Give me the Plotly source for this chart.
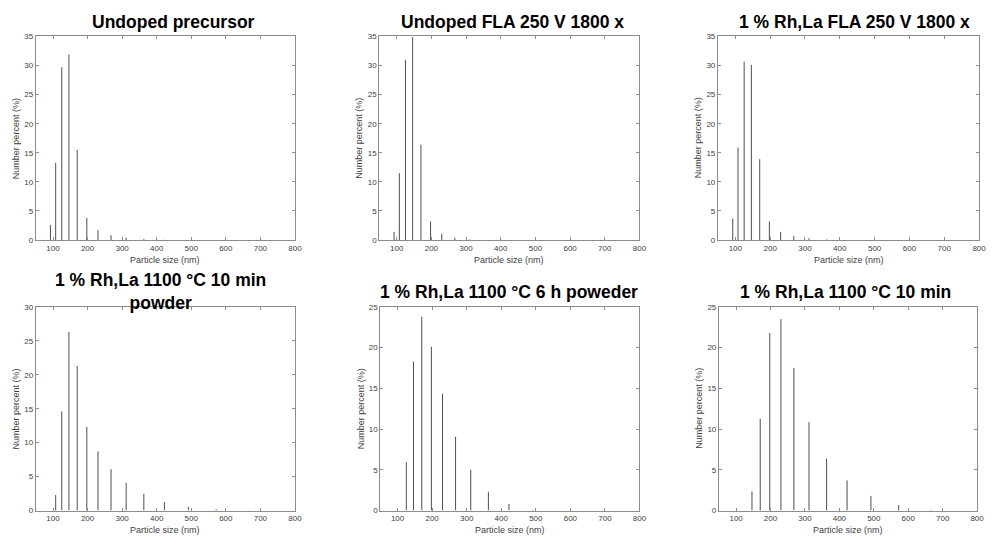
import plotly.graph_objects as go

# ---------------- data ----------------
sizes_nm = [92.5, 107.7, 125.3, 146.0, 170.0, 197.8, 230.1, 267.8,
            311.7, 362.8, 422.3, 491.6, 572.2, 666.1]

pct_undoped_precursor = [2.6, 13.3, 29.7, 31.9, 15.5, 3.8, 1.7, 0.85, 0.4, 0.15, 0.05, 0, 0, 0]
pct_undoped_fla = [1.4, 11.5, 31.0, 34.9, 16.4, 3.2, 1.1, 0.4, 0.1, 0, 0, 0, 0, 0]
pct_rhla_fla = [3.7, 15.9, 30.7, 30.1, 13.9, 3.2, 1.4, 0.68, 0.3, 0.1, 0, 0, 0, 0]
pct_rhla_10min_powder = [0, 2.3, 14.6, 26.3, 21.3, 12.3, 8.7, 6.1, 4.1, 2.45, 1.25, 0.55, 0.2, 0.05]
pct_rhla_6h_powder = [0, 0, 5.95, 18.3, 23.8, 20.1, 14.35, 9.05, 5.0, 2.3, 0.8, 0.1, 0, 0]
pct_rhla_10min = [0, 0, 0, 2.33, 11.25, 21.8, 23.5, 17.5, 10.85, 6.35, 3.7, 1.8, 0.68, 0.1]

panel_titles = [
    "Undoped precursor",
    "Undoped FLA 250 V 1800 x",
    "1 % Rh,La FLA 250 V 1800 x",
    "1 % Rh,La 1100 °C 10 min<br>powder",
    "1 % Rh,La 1100 °C 6 h poweder",
    "1 % Rh,La 1100 °C 10 min",
]
panel_series = [pct_undoped_precursor, pct_undoped_fla, pct_rhla_fla,
                pct_rhla_10min_powder, pct_rhla_6h_powder, pct_rhla_10min]
y_max = [35, 35, 35, 30, 25, 25]
x_ticks = [100, 200, 300, 400, 500, 600, 700, 800]
x_label = "Particle size (nm)"
y_label = "Number percent (%)"

# ---------------- layout geometry (pixels) ----------------
W, H = 997, 547
px_x = [(36, 297), (382, 644), (723, 986), (36, 297), (383, 644), (724, 984)]
px_y = [(33, 240), (33, 240), (33, 240), (308, 515), (308, 515), (308, 515)]
title_pos = [(175, 18), (516, 18), (861, 18), (162, 292), (513, 293), (851, 293)]

FONT = "Liberation Sans, Arial, sans-serif"
AX_COL = "#8c8c8c"
TXT_COL = "#404040"

fig = go.Figure()
layout = dict(width=W, height=H, margin=dict(l=0, r=0, t=0, b=0),
              paper_bgcolor="white", plot_bgcolor="white",
              showlegend=False, font=dict(family=FONT))
annotations = []

for i, (vals, title) in enumerate(zip(panel_series, panel_titles)):
    n = "" if i == 0 else str(i + 1)
    xs, ys = [], []
    for s, v in zip(sizes_nm, vals):
        if v > 0:
            xs += [s, s, None]
            ys += [0, v, None]
    fig.add_trace(go.Scatter(x=xs, y=ys, mode="lines",
                             line=dict(color="#3a3a3a", width=0.9),
                             xaxis="x" + n, yaxis="y" + n, hoverinfo="skip"))
    x0, x1 = px_x[i]
    y0, y1 = px_y[i]
    common = dict(showline=True, linecolor=AX_COL, linewidth=1, mirror="ticks",
                  ticks="inside", ticklen=3, tickcolor=AX_COL, tickwidth=1,
                  showgrid=False, zeroline=False,
                  tickfont=dict(size=8, color=TXT_COL, family=FONT))
    layout["xaxis" + n] = dict(common, domain=[x0 / W, x1 / W], range=[50, 800],
                               tickvals=x_ticks, anchor="y" + n)
    layout["yaxis" + n] = dict(common, domain=[1 - y1 / H, 1 - y0 / H],
                               range=[0, y_max[i]], dtick=5, anchor="x" + n)
    tx, ty = title_pos[i]
    annotations.append(dict(text="<b>" + title + "</b>", x=tx / W, y=1 - ty / H,
                            xref="paper", yref="paper", showarrow=False,
                            xanchor="center", yanchor="middle",
                            font=dict(size=17.5, color="black", family=FONT)))
    annotations.append(dict(text=x_label, x=(x0 + x1) / 2 / W, y=1 - (y1 + 20) / H,
                            xref="paper", yref="paper", showarrow=False,
                            xanchor="center", yanchor="middle",
                            font=dict(size=9, color=TXT_COL, family=FONT)))
    annotations.append(dict(text=y_label, x=(x0 - 20) / W, y=1 - (y0 + y1) / 2 / H,
                            xref="paper", yref="paper", showarrow=False, textangle=-90,
                            xanchor="center", yanchor="middle",
                            font=dict(size=9, color=TXT_COL, family=FONT)))

layout["annotations"] = annotations
fig.update_layout(**layout)
fig.write_html("out.html")
